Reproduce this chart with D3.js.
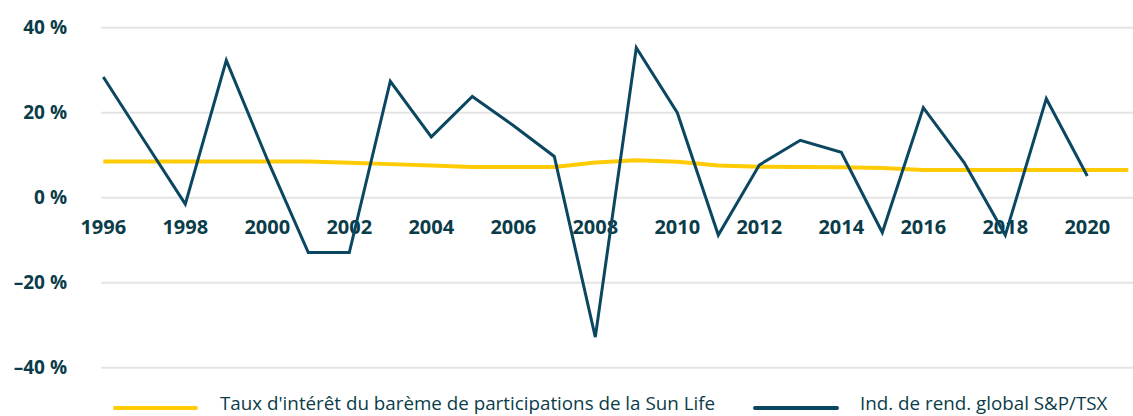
<!DOCTYPE html>
<html><head><meta charset="utf-8">
<script src="https://cdn.jsdelivr.net/npm/d3@7"></script>
<style>
html,body{margin:0;padding:0;background:#fff;}
svg{display:block;}
text{font-family:"Open Sans","Noto Sans",sans-serif;fill:#0b3c49;}
</style></head>
<body><svg id="chart" width="1133" height="416"></svg>
<script>
const years = [1996,1997,1998,1999,2000,2001,2002,2003,2004,2005,2006,2007,2008,2009,2010,2011,2012,2013,2014,2015,2016,2017,2018,2019,2020,2021];
const sunLifeRate = [8.5,8.5,8.5,8.5,8.5,8.5,8.2,7.9,7.6,7.25,7.25,7.25,8.3,8.8,8.45,7.6,7.3,7.2,7.15,7.0,6.5,6.5,6.5,6.5,6.5,6.5];
const tsxYears = [1996,1997,1998,1999,2000,2001,2002,2003,2004,2005,2006,2007,2008,2009,2010,2011,2012,2013,2014,2015,2016,2017,2018,2019,2020];
const tsxReturn = [28.4,13.4,-1.5,32.3,9,-12.9,-12.9,27.4,14.3,23.8,17,9.7,-32.8,35.3,20,-8.8,7.7,13.5,10.7,-8.2,21.2,8.2,-8.8,23.3,5.1];
const yTicks = [-40,-20,0,20,40];
const yTickLabels = ["–40 %","–20 %","0 %","20 %","40 %"];
const xTicks = [1996,1998,2000,2002,2004,2006,2008,2010,2012,2014,2016,2018,2020];
const seriesNames = ["Taux d'intérêt du barème de participations de la Sun Life","Ind. de rend. global S&P/TSX"];
const seriesColors = ["#ffcb05","#0b4761"];

const svg = d3.select("#chart");
const x = d3.scaleLinear().domain([1996,2021]).range([103.3,1128.3]);
const y = d3.scaleLinear().domain([-40,40]).range([367.7,27.7]);

// gridlines
svg.append("g").selectAll("line").data(yTicks).join("line")
  .attr("x1",101).attr("x2",1133)
  .attr("y1",d=>y(d)).attr("y2",d=>y(d))
  .attr("stroke","#e4e4e4").attr("stroke-width",2);

// y labels
svg.append("g").selectAll("text").data(yTicks).join("text")
  .attr("x",67).attr("y",d=>y(d)).attr("dy","0.33em")
  .attr("text-anchor","end").attr("font-size",19).attr("font-weight",700)
  .text((d,i)=>yTickLabels[i]);

// x labels
svg.append("g").selectAll("text").data(xTicks).join("text")
  .attr("x",d=>x(d)).attr("y",234.3)
  .attr("text-anchor","middle").attr("font-size",20).attr("font-weight",700)
  .text(d=>d);

// lines
const lineGen = d3.line().x(d=>x(d[0])).y(d=>y(d[1]));
svg.append("path").datum(years.map((yr,i)=>[yr,sunLifeRate[i]]))
  .attr("d",lineGen).attr("fill","none").attr("stroke",seriesColors[0])
  .attr("stroke-width",4).attr("stroke-linejoin","round");
svg.append("path").datum(tsxYears.map((yr,i)=>[yr,tsxReturn[i]]))
  .attr("d",lineGen).attr("fill","none").attr("stroke",seriesColors[1])
  .attr("stroke-width",3).attr("stroke-linejoin","miter");

// legend
const legendPos = [{x1:115,x2:196,tx:220},{x1:755,x2:837,tx:860}];
const lg = svg.append("g");
legendPos.forEach((p,i)=>{
  lg.append("line").attr("x1",p.x1).attr("x2",p.x2).attr("y1",408).attr("y2",408)
    .attr("stroke",seriesColors[i]).attr("stroke-width",4).attr("stroke-linecap","round");
  lg.append("text").attr("x",p.tx).attr("y",410).attr("font-size",18.8)
    .text(seriesNames[i]);
});
</script></body></html>
